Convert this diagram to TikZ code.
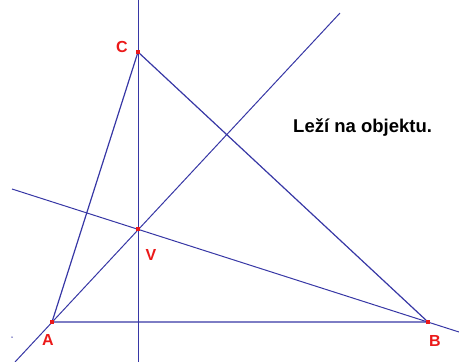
\documentclass[tikz,border=0pt]{standalone}
\usepackage{fontspec}
\setmainfont{Liberation Sans}
\usepackage{tikz}
\usetikzlibrary{backgrounds}
\definecolor{LineBlue}{RGB}{55,55,165}
\definecolor{PtRed}{RGB}{235,25,25}

\begin{document}
\begin{tikzpicture}[
  x=1pt, y=-1pt,
  every node/.style={inner sep=0pt},
  ln/.style={draw=LineBlue, line width=1pt},
  side/.style={draw=LineBlue, line width=1.2pt},
  pt/.style={rectangle, fill=PtRed, minimum size=3.5pt},
  dot/.style={circle, fill=LineBlue, minimum size=1.5pt},
  lbl/.style={text=PtRed, font=\fontsize{16}{19}\selectfont\bfseries},
]
%% pixel grid of the screenshot, y runs downwards
\useasboundingbox (0,0) rectangle (459,362);

%% ---- vertices and the orthocentre ----
\node[pt] (A) at (52,322) {};
\node[pt] (B) at (428,322) {};
\node[pt] (C) at (138,52) {};
\node[pt] (V) at (138,229) {};

%% free ends of the three altitudes
\coordinate (cTop) at (138,0);
\coordinate (cBot) at (138,362);
\coordinate (aLow) at (15,362);
\coordinate (aHigh) at (340,13);
\coordinate (bLeft) at (12,189);
\coordinate (bRight) at (459,332);

\begin{scope}[on background layer]
  %% ---- altitudes ----
  \draw[ln] (cTop) -- (cBot);
  \draw[ln] (aLow) -- (aHigh);
  \draw[ln] (bLeft) -- (bRight);
  %% ---- triangle ----
  \draw[side] (A.center) -- (B.center) -- (C.center) -- cycle;
\end{scope}

\node[dot] (stray) at (12,337) {};

%% ---- labels ----
\node[lbl] (labA) at (48,340) {A};
\node[lbl] (labB) at (435,341) {B};
\node[lbl] (labC) at (122,47) {C};
\node[lbl] (labV) at (151,255) {V};

\node[anchor=base west, font=\fontsize{18.5}{22}\selectfont\bfseries]
  (msg) at (293,132) {Leží na objektu.};
\end{tikzpicture}
\end{document}
